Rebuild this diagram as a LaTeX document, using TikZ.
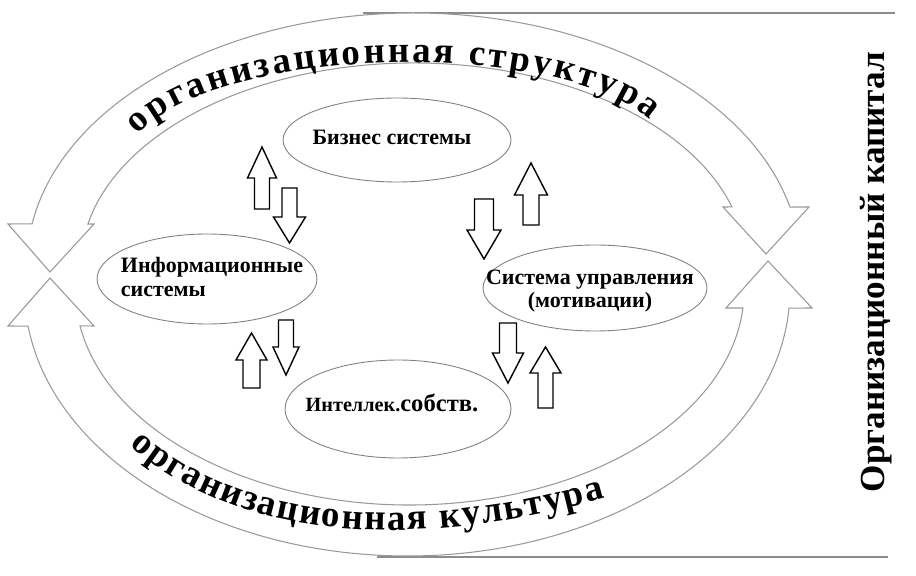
\documentclass[tikz,border=0pt]{standalone}
\usepackage{fontspec}
\setmainfont{Liberation Serif}
\usetikzlibrary{calc,decorations.text,shapes.geometric}
\newcommand{\curvefont}{\fontsize{21}{23}\selectfont\bfseries}
% xc, ytail, yheadbase, ytip, shaft half width, head half width (image coordinates, y down)
\newcommand{\blkarrow}[6]{%
  \draw[blockarr] ({#1-#5},{575-#2}) -- ({#1-#5},{575-#3}) -- ({#1-#6},{575-#3})
    -- (#1,{575-#4}) -- ({#1+#6},{575-#3}) -- ({#1+#5},{575-#3}) -- ({#1+#5},{575-#2}) -- cycle;}
\begin{document}
\begin{tikzpicture}[x=0.02cm, y=0.02cm,
  band/.style={draw=black!40, line width=0.6pt, fill=white, line join=miter},
  ell/.style={ellipse, draw=black!50, line width=0.5pt, inner sep=0pt},
  lbl/.style={font=\bfseries\fontsize{12.5}{13.5}\selectfont, inner sep=0pt},
  blockarr/.style={draw=black, line width=0.8pt, fill=white, line join=miter},
  rule/.style={draw=black!45, line width=1.1pt}]
\useasboundingbox (0,0) rectangle (916,575);

% horizontal rules
\coordinate (t1) at (363,562); \coordinate (t2) at (895,562);
\coordinate (b1) at (377,18);  \coordinate (b2) at (888,18);
\draw[rule] (t1) -- (t2);
\draw[rule] (b1) -- (b2);

% top curved double block arrow
\filldraw[band] ($(413.6,310)+(170.6:386.7 and 252)$)
  arc[start angle=170.6, end angle=13.3, x radius=386.7, y radius=252]
  -- (809,368) -- (766,321) -- (723,368)
  -- ($(413.5,310)+(16.7:332.5 and 202)$)
  arc[start angle=16.7, end angle=168.3, x radius=332.5, y radius=202]
  -- (94,351) -- (50,303) -- (8,351) -- cycle;

% bottom curved double block arrow
\filldraw[band] ($(407.2,285)+(187.8:382.7 and 266)$)
  -- (8,249) -- (50,297) -- (94,249)
  -- ($(409.7,285)+(189.6:334.4 and 215)$)
  arc[start angle=189.6, end angle=355.2, x radius=334.4, y radius=215]
  -- (726,267) -- (768,314) -- (812,267)
  -- ($(407.2,285)+(356.1:382.7 and 266)$)
  arc[start angle=356.1, end angle=187.8, x radius=382.7, y radius=266] -- cycle;

% curved texts
\path[decorate, decoration={text along path, text={|\curvefont|организационная структура}, text align=fit to path}]
  (138,440) .. controls (220,532) and (560,536) .. (650,455);
\path[decorate, decoration={text along path, text={|\curvefont|организационная культура}, text align=fit to path}]
  (130,130) .. controls (230,40) and (400,20) .. (605,77);

% ellipses
\node[ell, minimum width=4.56cm, minimum height=1.68cm] (biz) at (397,435) {};
\node[ell, minimum width=4.4cm, minimum height=1.8cm] (info) at (207,296) {};
\node[ell, minimum width=4.48cm, minimum height=1.72cm] (sys) at (595,287) {};
\node[ell, minimum width=4.52cm, minimum height=1.96cm] (intel) at (398,166) {};

\node[lbl] (biztxt) at (392,438) {Бизнес системы};
\node[lbl, align=left] (infotxt) at (212,298) {Информационные\\системы};
\node[lbl, align=center] (systxt) at (590,284) {Система управления\\(мотивации)};
\node[lbl] (inteltxt) at (392,172) {{\fontsize{11.5}{13}\selectfont Интеллек.}{\fontsize{14}{15}\selectfont собств.}};

% small block arrows
\blkarrow{262}{209}{178}{147}{7.5}{14.5}
\blkarrow{289.5}{188}{217}{243}{7.5}{16}
\blkarrow{251.5}{388}{360}{333}{8.5}{15.5}
\blkarrow{286}{320}{347}{375}{7.5}{13}
\blkarrow{484}{199}{230}{259}{9.5}{17}
\blkarrow{531}{225}{195}{163}{8}{16.5}
\blkarrow{508}{323}{353}{383}{8.5}{15.5}
\blkarrow{545.5}{408}{373}{347}{7.5}{15.5}

% vertical title
\node[rotate=90, font=\bfseries\fontsize{20}{22}\selectfont, inner sep=0pt] (cap) at (876,303) {Организационный капитал};
\end{tikzpicture}
\end{document}
